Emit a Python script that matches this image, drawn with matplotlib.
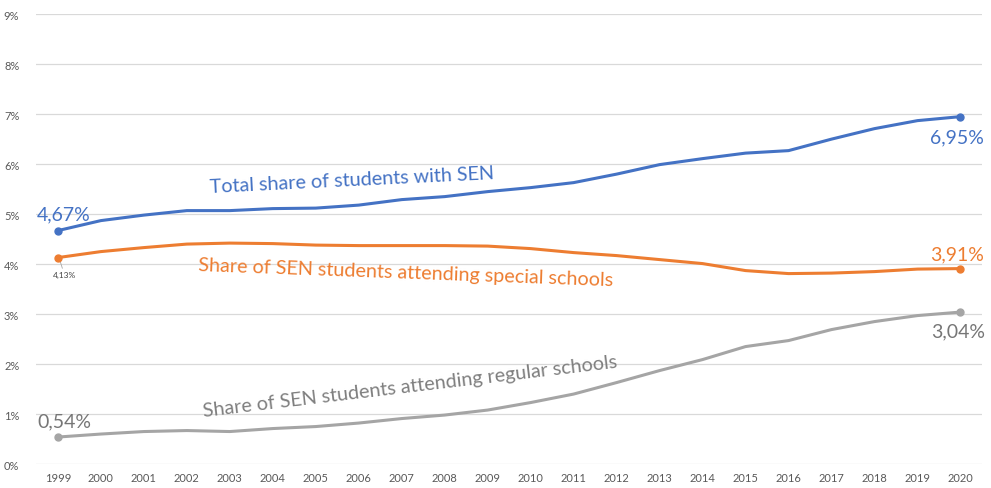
import numpy as np
import matplotlib.pyplot as plt
from matplotlib.ticker import FuncFormatter

plt.rcParams['font.family'] = ['Lato', 'DejaVu Sans']

# Datos
anios = list(range(1999, 2021))
total = [4.67, 4.87, 4.98, 5.07, 5.07, 5.11, 5.12, 5.18, 5.29, 5.35, 5.45,
         5.53, 5.63, 5.80, 5.99, 6.11, 6.22, 6.27, 6.50, 6.71, 6.87, 6.95]
especiales = [4.13, 4.25, 4.33, 4.40, 4.42, 4.41, 4.38, 4.37, 4.37, 4.37, 4.36,
              4.31, 4.23, 4.17, 4.09, 4.01, 3.87, 3.81, 3.82, 3.85, 3.90, 3.91]
regulares = [0.54, 0.60, 0.65, 0.67, 0.65, 0.71, 0.75, 0.82, 0.91, 0.98, 1.08,
             1.23, 1.40, 1.63, 1.87, 2.09, 2.35, 2.47, 2.69, 2.85, 2.97, 3.04]

azul = '#4472C4'
naranja = '#ED7D31'
gris = '#A5A5A5'

fig = plt.figure(figsize=(9.91, 4.89), dpi=100)
ax = fig.add_axes([0.0363, 0.049, 0.955, 0.92])

for serie, color in [(total, azul), (especiales, naranja), (regulares, gris)]:
    ax.plot(anios, serie, color=color, lw=2.2, solid_capstyle='round', zorder=3)
    # puntos solo en los extremos
    ax.plot([anios[0], anios[-1]], [serie[0], serie[-1]], 'o', color=color,
            ms=5, zorder=4)

ax.set_xlim(1998.49, 2020.51)
ax.set_ylim(0, 9)
ax.set_xticks(anios)
ax.set_yticks(range(0, 10))
ax.yaxis.set_major_formatter(FuncFormatter(lambda v, p: f"{int(v)}%"))
ax.tick_params(length=0, labelsize=8, colors='#595959', pad=6)
ax.tick_params(axis='y', pad=12)
for s in ax.spines.values():
    s.set_visible(False)
ax.grid(axis='y', color='#D9D9D9', lw=0.9)
ax.set_axisbelow(True)

# Etiquetas de las series
ax.text(2002.54, 5.44, "Total share of students with SEN", color=azul,
        fontsize=14.2, rotation=2.8, rotation_mode='anchor', ha='left', va='baseline')
ax.text(2002.26, 3.88, "Share of SEN students attending special schools", color=naranja,
        fontsize=14.2, rotation=-2.1, rotation_mode='anchor', ha='left', va='baseline')
ax.text(2002.38, 0.96, "Share of SEN students attending regular schools", color='#7F7F7F',
        fontsize=14.2, rotation=6.8, rotation_mode='anchor', ha='left', va='baseline')

# Valores
fmt = lambda v: f"{v:.2f}%".replace('.', ',')
ax.text(1998.51, 4.9, fmt(total[0]), color=azul, fontsize=14, ha='left', va='baseline')
ax.text(2020.54, 6.44, fmt(total[-1]), color=azul, fontsize=14, ha='right', va='baseline')
ax.text(2020.54, 4.09, fmt(especiales[-1]), color=naranja, fontsize=14, ha='right', va='baseline')
ax.text(2020.58, 2.56, fmt(regulares[-1]), color='#767676', fontsize=14, ha='right', va='baseline')
ax.text(1998.53, 0.76, fmt(regulares[0]), color='#767676', fontsize=14, ha='left', va='baseline')
ax.annotate(fmt(especiales[0]), xy=(anios[0] + 0.04, especiales[0] - 0.04),
            xytext=(1998.88, 3.74), color='#404040', fontsize=6,
            ha='left', va='baseline',
            arrowprops=dict(arrowstyle='-', color='#A6A6A6', lw=0.6,
                            shrinkA=0, shrinkB=0))

fig.savefig('out.png', dpi=100)
